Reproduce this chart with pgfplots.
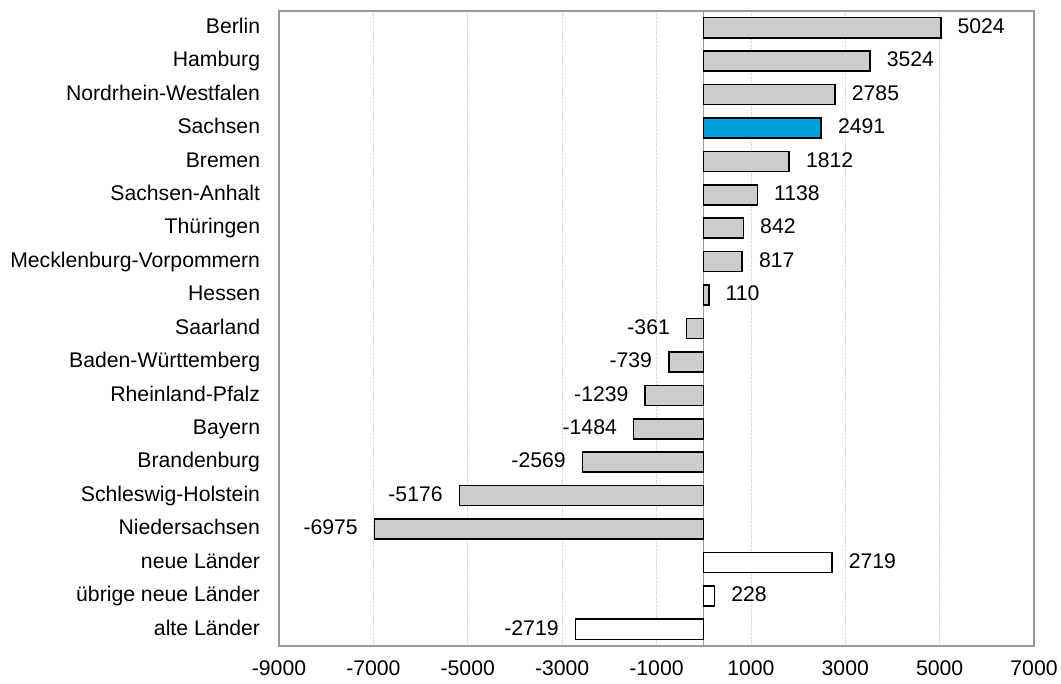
\documentclass[border=0pt,12pt]{standalone}
\usepackage{fontspec}
\setmainfont{Liberation Sans}
\usepackage{pgfplots}
\pgfplotsset{compat=1.18}
\definecolor{bargray}{HTML}{CCCCCC}
\definecolor{barblue}{HTML}{009FDF}
\definecolor{axgray}{HTML}{999999}
\newcommand{\lblfont}{\fontsize{15.9}{18}\selectfont}
\begin{document}
\begin{tikzpicture}
\useasboundingbox (-209.25pt,-28.5pt) rectangle (586.5pt,484.5pt);
\begin{axis}[
  scale only axis,
  width=566.25pt, height=476.25pt,
  at={(0pt,0pt)}, anchor=south west,
  xbar, bar width=0.6, bar shift=0pt,
  y dir=reverse,
  xmin=-9000, xmax=7000,
  ymin=-0.5, ymax=18.5,
  xtick={-9000,-7000,...,7000},
  ytick={0,...,18},
  yticklabels={Berlin,Hamburg,Nordrhein-Westfalen,Sachsen,Bremen,Sachsen-Anhalt,Thüringen,Mecklenburg-Vorpommern,Hessen,Saarland,Baden-Württemberg,Rheinland-Pfalz,Bayern,Brandenburg,Schleswig-Holstein,Niedersachsen,neue Länder,übrige neue Länder,alte Länder},
  major tick length=0pt,
  xmajorgrids,
  major grid style={densely dotted, black!20},
  axis line style={axgray, line width=1.2pt},
  /pgf/number format/assume math mode=true,
  /pgf/number format/1000 sep={},
  tick label style={font=\lblfont},
  xticklabel style={yshift=-9pt, text height=0.72em, text depth=0pt},
  yticklabel style={xshift=-10pt, anchor=east, text height=0.72em, text depth=0pt},
  extra x ticks={0},
  extra x tick labels={},
  extra x tick style={grid=major, major grid style={solid, axgray, line width=1.2pt}},
  nodes near coords,
  point meta=x,
  every node near coord/.append style={inner xsep=12pt, inner ysep=0pt, black, font=\lblfont,
    text height=0.72em, text depth=0pt,
    /pgf/number format/assume math mode=true, /pgf/number format/1000 sep={},
    /pgf/number format/fixed, /pgf/number format/precision=0},
  every axis plot/.append style={draw=black, line width=1.2pt},
]
\addplot[fill=bargray, draw=black] coordinates {
(5024,0) (3524,1) (2785,2) (1812,4) (1138,5) (842,6) (817,7) (110,8)
(-361,9) (-739,10) (-1239,11) (-1484,12) (-2569,13) (-5176,14) (-6975,15)};
\addplot[fill=barblue, draw=black] coordinates {(2491,3)};
\addplot[fill=white, draw=black] coordinates {(2719,16) (228,17) (-2719,18)};
\end{axis}
\end{tikzpicture}
\end{document}
